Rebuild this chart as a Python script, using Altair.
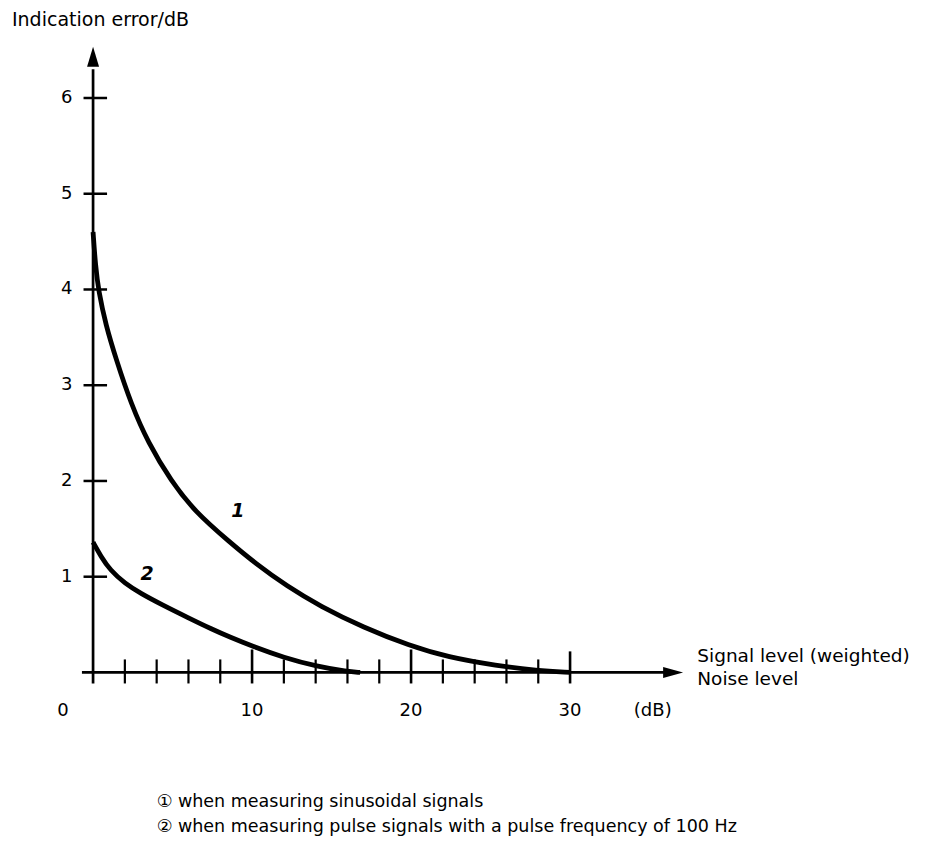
import altair as alt
import pandas as pd

# ---- data ----
c1_x = [0.0, 0.15, 0.35, 0.8, 1.45, 2.4, 3.46, 4.9, 6.4, 8.6, 10.2, 12.2, 14.3, 17.0, 19.9, 22.3, 25.4, 27.9, 30.0]
c1_y = [4.6, 4.25, 3.98, 3.63, 3.27, 2.80, 2.40, 2.0, 1.68, 1.36, 1.14, 0.90, 0.69, 0.47, 0.28, 0.16, 0.07, 0.02, 0.0]
c2_x = [0.0, 0.5, 1.07, 2.0, 3.0, 4.3, 6.0, 7.5, 8.6, 10.0, 12.0, 14.1, 16.0, 16.8]
c2_y = [1.36, 1.21, 1.07, 0.93, 0.825, 0.71, 0.57, 0.45, 0.37, 0.275, 0.155, 0.062, 0.009, 0.0]

x_minor_ticks = [2, 4, 6, 8, 12, 14, 16, 18, 22, 24, 26, 28]
x_major_ticks = [10, 20, 30]
x_tick_labels = ["0", "10", "20", "30", "(dB)"]
x_tick_label_pos = [-1.9, 10, 20, 30, 35.2]
y_ticks = [1, 2, 3, 4, 5, 6]
curve_labels = ["1", "2"]
curve_label_x = [9.1, 3.4]
curve_label_y = [1.69, 1.03]
legend_lines = ["\u2460 when measuring sinusoidal signals",
                "\u2461 when measuring pulse signals with a pulse frequency of 100 Hz"]

XMIN, XMAX = -5.35, 51.82
YMIN, YMAX = -1.75, 6.94
W, H = 909, 832
FONT = "DejaVu Sans"

xs = alt.Scale(domain=[XMIN, XMAX], nice=False, zero=False)
ys = alt.Scale(domain=[YMIN, YMAX], nice=False, zero=False)
X = lambda f: alt.X(f, type="quantitative", scale=xs, axis=None)
Y = lambda f: alt.Y(f, type="quantitative", scale=ys, axis=None)

curves = pd.DataFrame({
    "x": c1_x + c2_x,
    "y": c1_y + c2_y,
    "curve": ["1"] * len(c1_x) + ["2"] * len(c2_x),
})
curve_layer = alt.Chart(curves).mark_line(
    color="black", strokeWidth=4.8, interpolate="basis"
).encode(x=X("x"), y=Y("y"), detail="curve:N")

# axis lines
axes_df = pd.DataFrame({"x": [-0.7, 0.0], "x2": [36.0, 0.0], "y": [0.0, -0.115], "y2": [0.0, 6.3]})
axes_layer = alt.Chart(axes_df).mark_rule(color="black", strokeWidth=2.7).encode(
    x=X("x"), x2="x2", y=Y("y"), y2="y2")

# arrowheads
arrow_up = alt.Chart(pd.DataFrame({"x": [0.0], "y": [6.43]})).mark_point(
    shape="M0,-1L0.6,1L-0.6,1Z", size=400, filled=True, color="black", opacity=1
).encode(x=X("x"), y=Y("y"))
arrow_right = alt.Chart(pd.DataFrame({"x": [36.48], "y": [0.0]})).mark_point(
    shape="M1,0L-1,-0.55L-1,0.55Z", size=400, filled=True, color="black", opacity=1
).encode(x=X("x"), y=Y("y"))

# x ticks
minor_df = pd.DataFrame({"x": x_minor_ticks, "y": [0.136] * len(x_minor_ticks), "y2": [-0.115] * len(x_minor_ticks)})
minor_layer = alt.Chart(minor_df).mark_rule(color="black", strokeWidth=2.2).encode(
    x=X("x"), y=Y("y"), y2="y2")
major_df = pd.DataFrame({"x": x_major_ticks, "y": [0.24, 0.24, 0.22], "y2": [-0.115] * 3})
major_layer = alt.Chart(major_df).mark_rule(color="black", strokeWidth=2.6).encode(
    x=X("x"), y=Y("y"), y2="y2")

# y ticks
yt_df = pd.DataFrame({"y": y_ticks, "x": [-0.6] * len(y_ticks), "x2": [0.88] * len(y_ticks)})
yt_layer = alt.Chart(yt_df).mark_rule(color="black", strokeWidth=2.5).encode(
    x=X("x"), x2="x2", y=Y("y"))

# tick labels
xl_df = pd.DataFrame({"x": x_tick_label_pos, "y": [-0.40] * len(x_tick_labels), "t": x_tick_labels})
xl_layer = alt.Chart(xl_df).mark_text(font=FONT, fontSize=18, color="black", align="center", baseline="middle").encode(
    x=X("x"), y=Y("y"), text="t:N")
yl_df = pd.DataFrame({"y": y_ticks, "x": [-1.3] * len(y_ticks), "t": [str(v) for v in y_ticks]})
yl_layer = alt.Chart(yl_df).mark_text(font=FONT, fontSize=18, color="black", align="right", baseline="middle").encode(
    x=X("x"), y=Y("y"), text="t:N")

# curve labels
cl_df = pd.DataFrame({"x": curve_label_x, "y": curve_label_y, "t": curve_labels})
cl_layer = alt.Chart(cl_df).mark_text(font=FONT, fontSize=19, fontWeight="bold", fontStyle="italic",
                                      color="black", align="center", baseline="middle").encode(
    x=X("x"), y=Y("y"), text="t:N")

# axis titles
yt_title = alt.Chart(pd.DataFrame({"x": [-5.1], "y": [6.81], "t": ["Indication error/dB"]})).mark_text(
    font=FONT, fontSize=19, color="black", align="left", baseline="middle").encode(x=X("x"), y=Y("y"), text="t:N")
xt_df = pd.DataFrame({"x": [38.0, 38.0], "y": [0.167, -0.07], "t": ["Signal level (weighted)", "Noise level"]})
xt_title = alt.Chart(xt_df).mark_text(font=FONT, fontSize=18.5, color="black", align="left", baseline="middle").encode(
    x=X("x"), y=Y("y"), text="t:N")

# legend notes
lg_df = pd.DataFrame({"x": [4.0, 4.0], "y": [-1.355, -1.61], "t": legend_lines})
lg_layer = alt.Chart(lg_df).mark_text(font=FONT, fontSize=17.5, color="black", align="left", baseline="middle").encode(
    x=X("x"), y=Y("y"), text="t:N")

chart = alt.layer(
    axes_layer, arrow_up, arrow_right, minor_layer, major_layer, yt_layer,
    curve_layer, xl_layer, yl_layer, cl_layer, yt_title, xt_title, lg_layer
).properties(
    width=W, height=H, autosize=alt.AutoSizeParams(type="none"), padding=0, background="white"
).configure_view(stroke=None)

chart.save("out.html", embed_options={"renderer": "svg", "actions": False})
